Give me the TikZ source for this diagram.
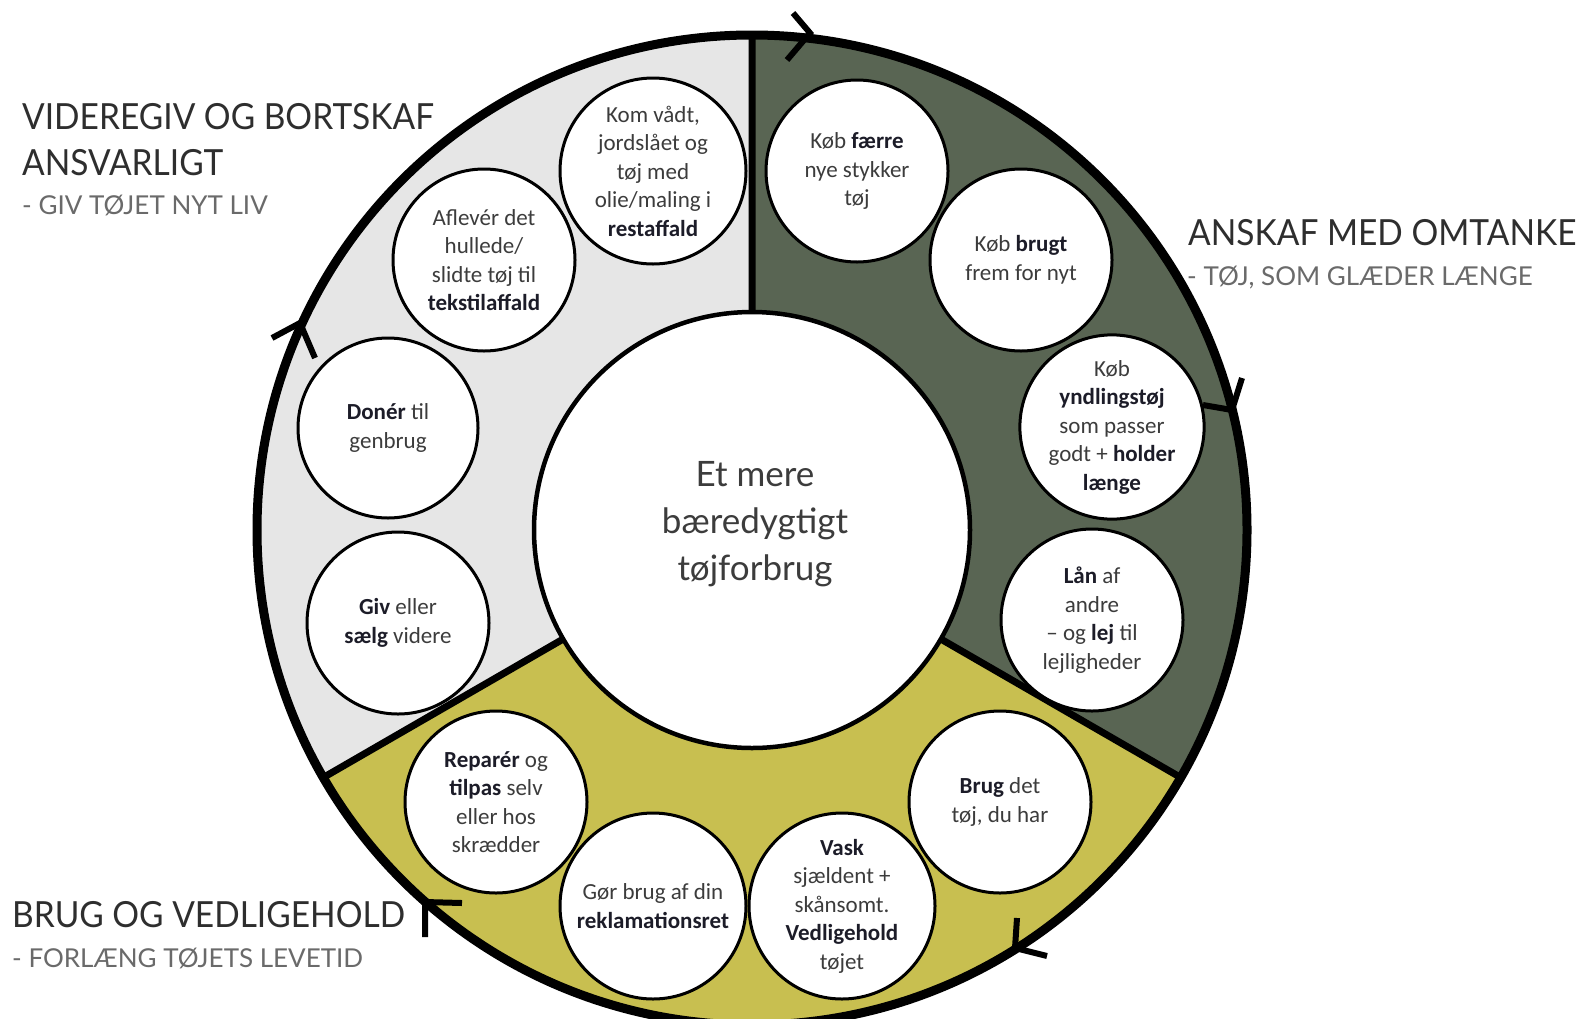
\documentclass[tikz,border=0pt]{standalone}
\usepackage{fontspec}
\usepackage{graphicx}
\usetikzlibrary{calc}
\setmainfont{Carlito}
\newfontfamily\titlefont{Lato}
\definecolor{lgray}{HTML}{E6E6E6}
\definecolor{dgreen}{HTML}{596553}
\definecolor{yel}{HTML}{C8BF50}
\definecolor{txt}{HTML}{3C3C3C}
\definecolor{bdc}{HTML}{1C1C28}
\definecolor{tit}{HTML}{2E2E2E}
\definecolor{sub}{HTML}{6A6A6A}
\newcommand\kb[1]{\textbf{\color{bdc}#1}}
\newcommand\tsq[1]{\scalebox{0.93}[1]{#1}}
\begin{document}
\begin{tikzpicture}[x=1pt,y=-1pt,
  bub/.style={circle, draw=black, line width=3pt, fill=white, minimum size=#1,
    inner sep=0pt, align=center, text=txt, font=\fontsize{23}{28.5}\selectfont},
  bub/.default=182,
  title/.style={anchor=base west, inner sep=0pt, text=tit, font=\titlefont\fontsize{36}{46}\selectfont},
  subtitle/.style={anchor=base west, inner sep=0pt, text=sub, font=\titlefont\fontsize{26}{30}\selectfont},
  chev/.style={line width=6pt, line join=miter, line cap=butt}]
\useasboundingbox (0,0) rectangle (1581,1018);
\clip (0,0) rectangle (1581,1018);
\fill[white] (0,0) rectangle (1581,1018);
\coordinate (C) at (752,530);
% sectors
\fill[yel] (C) circle[radius=495];
\fill[lgray] (C) -- ++(-90:495) arc[start angle=-90, end angle=-210, radius=495] -- cycle;
\fill[dgreen] (C) -- ++(-90:495) arc[start angle=-90, end angle=30, radius=495] -- cycle;
% dividers
\coordinate (dtop) at ($(C)+(-90:495)$);
\coordinate (dleft) at ($(C)+(150:495)$);
\coordinate (dright) at ($(C)+(30:495)$);
\draw[line width=7pt] (C) -- (dtop) (C) -- (dleft) (C) -- (dright);
% outer ring
\draw[line width=9pt] (C) circle[radius=495];
% centre
\node[circle, draw=black, line width=4.5pt, fill=white, minimum size=436, inner sep=0pt] (core) at (C) {};
\node[align=center, text=txt, font=\titlefont\fontsize{35}{47}\selectfont] (coretext) at (755,524)
  {Et mere\\bæredygtigt\\tøjforbrug};
% bubbles
\node[bub=186] (b1) at (653,171) {Kom vådt,\\jordslået og\\tøj med\\olie/maling i\\\kb{restaffald}};
\node[bub] (b2) at (484,260) {Aflevér det\\hullede/\\slidte tøj til\\\kb{tekstilaffald}};
\node[bub=180] (b3) at (388,428) {\kb{Donér} til\\genbrug};
\node[bub] (b4) at (398,623) {\kb{Giv} eller\\\kb{sælg} videre};
\node[bub] (b5) at (496,802) {\kb{Reparér} og\\\kb{tilpas} selv\\eller hos\\skrædder};
\node[bub=186] (b6) at (653,906) {Gør brug af din\\\kb{reklamationsret}};
\node[bub=186] (b7) at (842,906) {\kb{Vask}\\sjældent +\\skånsomt.\\\kb{Vedligehold}\\tøjet};
\node[bub] (b8) at (1000,802) {\kb{Brug} det\\tøj, du har};
\node[bub] (b9) at (1092,620) {\kb{Lån} af\\andre\\– og \kb{lej} til\\lejligheder};
\node[bub=178] (b10) at (1112,427) {Køb\\\kb{yndlingstøj}\\som passer\\godt + \kb{holder}\\\kb{længe}};
\node[bub] (b11) at (1021,260) {Køb \kb{brugt}\\frem for nyt};
\node[bub] (b12) at (857,171) {Køb \kb{færre}\\nye stykker\\tøj};
% chevrons on the ring
\draw[chev] (793,13) -- (810,33) -- (787,60);
\draw[chev] (1242,378) -- (1232,410) -- (1203,405);
\draw[chev] (1017,918) -- (1015,948) -- (1047,956);
\draw[chev] (462,903) -- (425,902) -- (425,937);
\draw[chev] (272,338) -- (300,323) -- (315,358);
% titles
\node[title] (t1a) at (22,129) {\tsq{VIDEREGIV OG BORTSKAF}};
\node[title] (t1b) at (22,175) {\tsq{ANSVARLIGT}};
\node[subtitle] (t1c) at (22,214) {- GIV TØJET NYT LIV};
\node[title] (t2a) at (1188,245) {\tsq{ANSKAF MED OMTANKE}};
\node[subtitle] (t2b) at (1187,285) {- TØJ, SOM GLÆDER LÆNGE};
\node[title] (t3a) at (12,927) {\tsq{BRUG OG VEDLIGEHOLD}};
\node[subtitle] (t3b) at (12,967) {- FORLÆNG TØJETS LEVETID};
\end{tikzpicture}
\end{document}
